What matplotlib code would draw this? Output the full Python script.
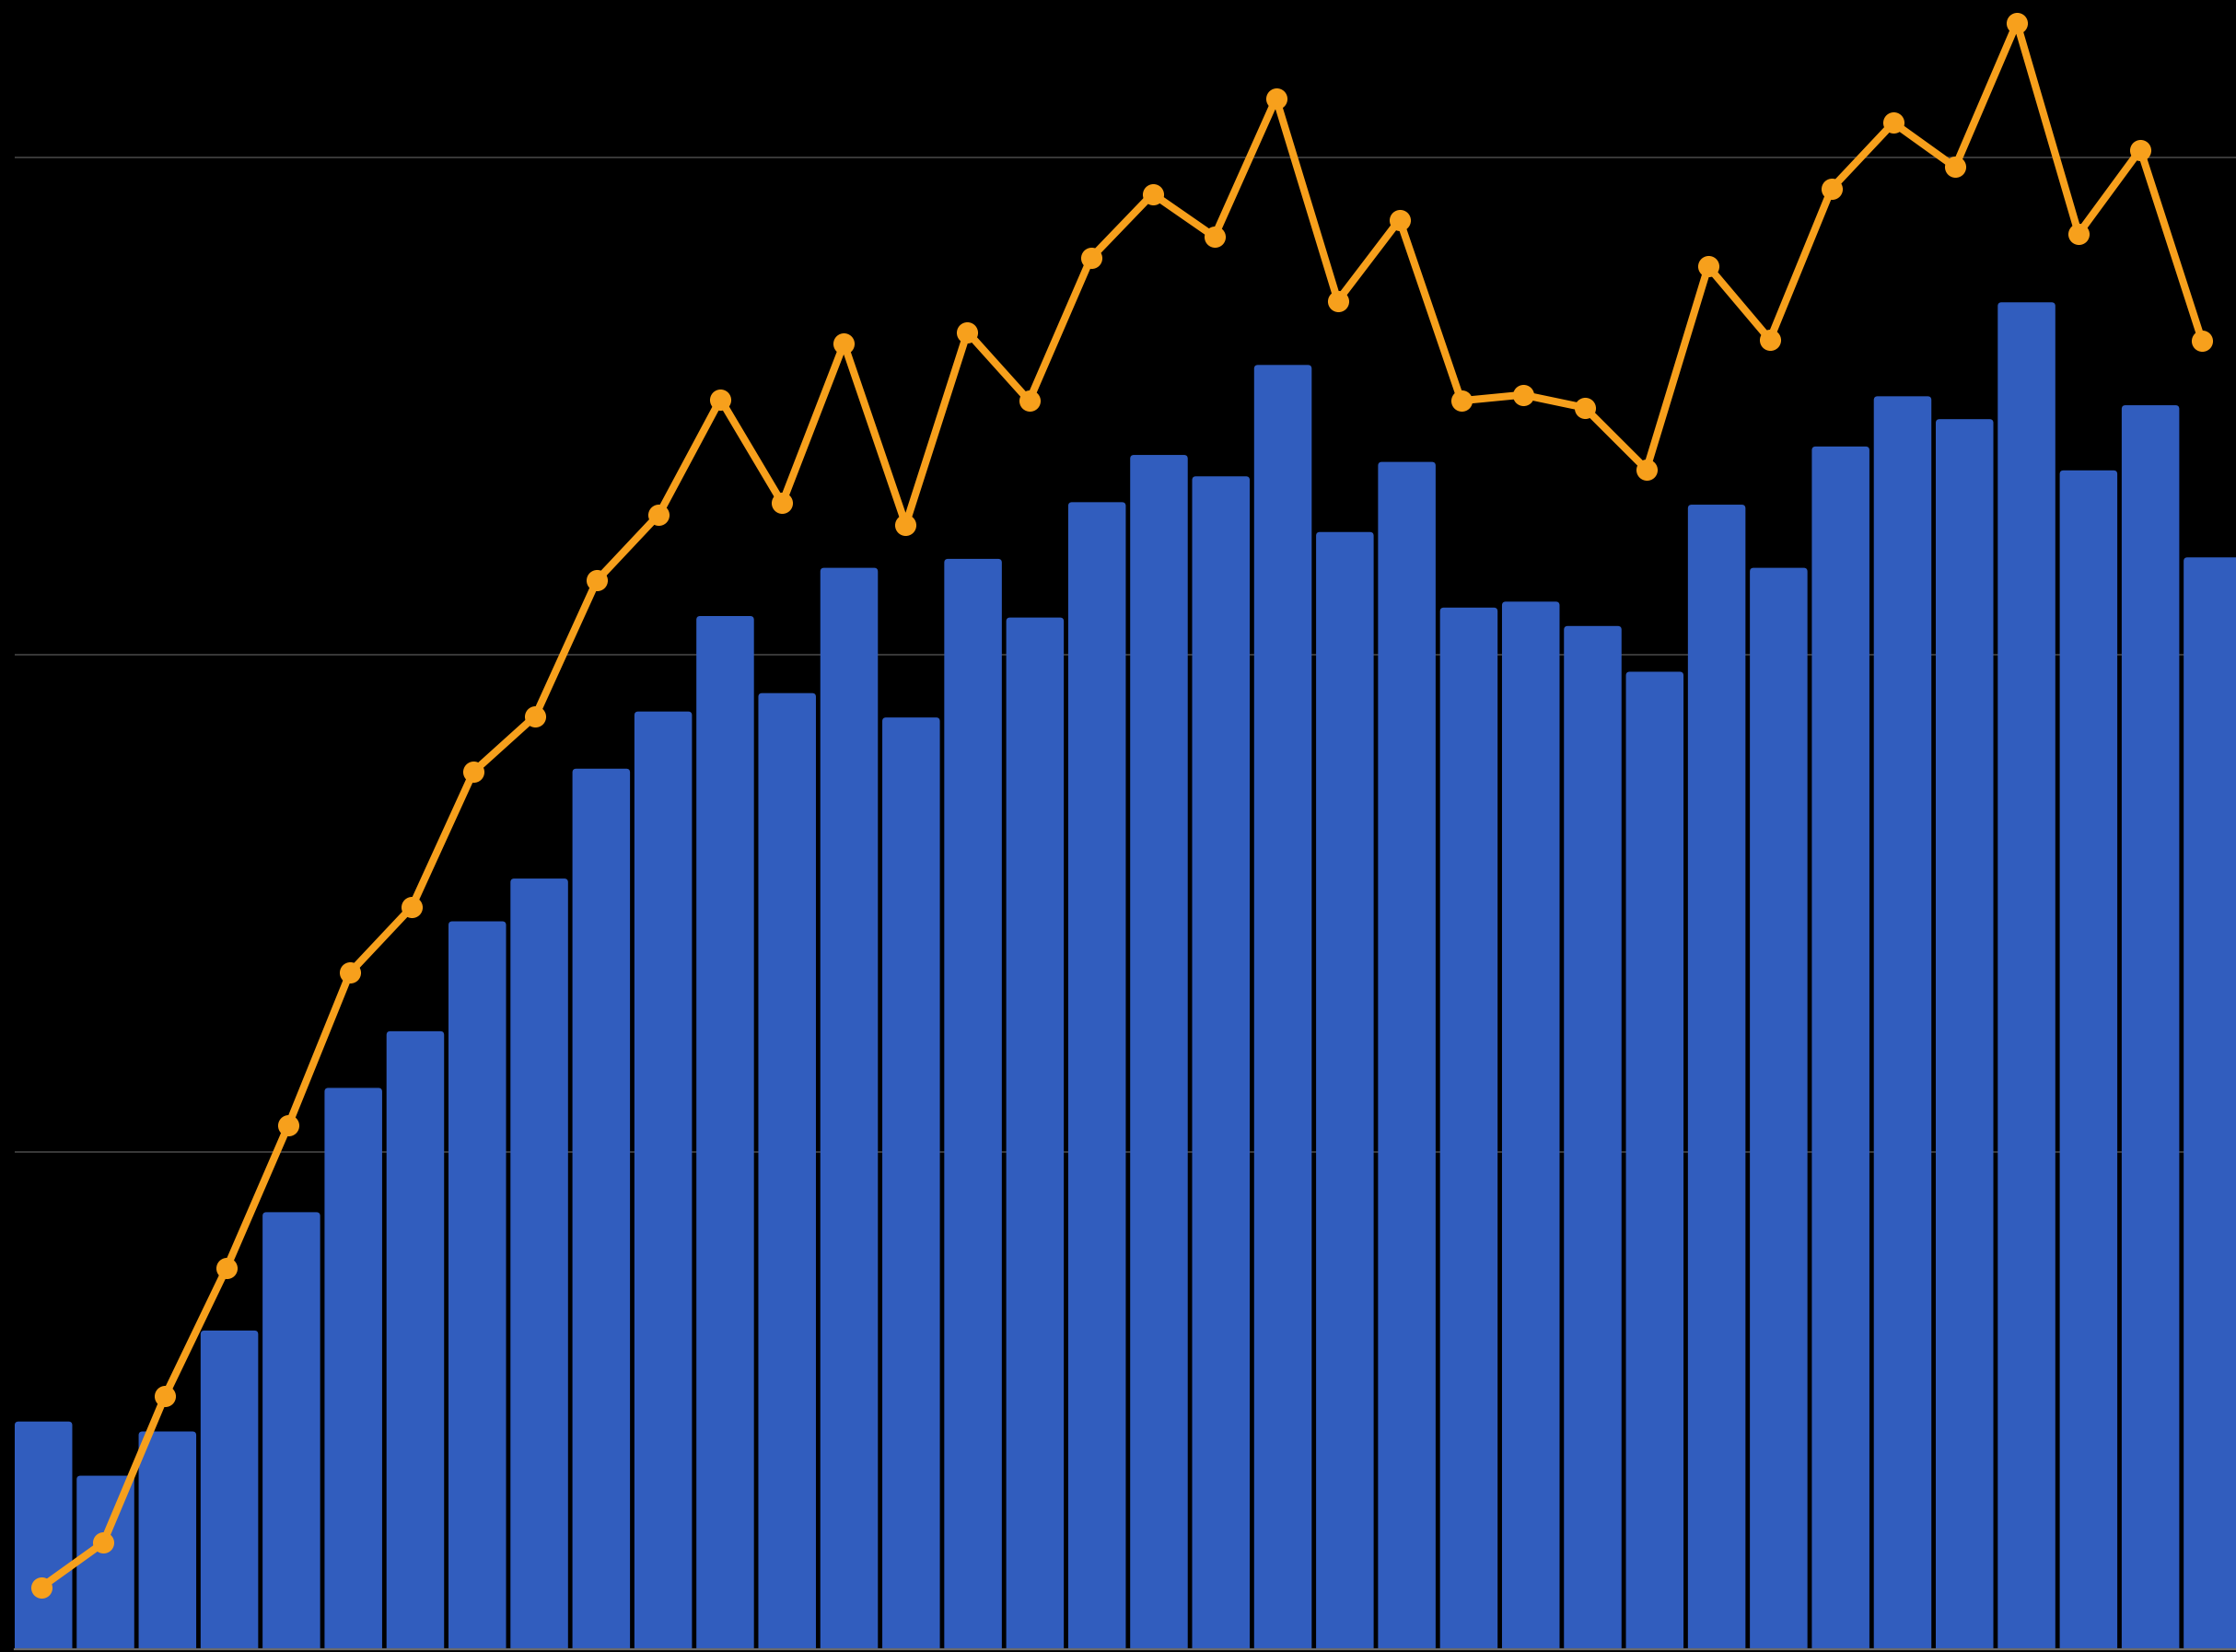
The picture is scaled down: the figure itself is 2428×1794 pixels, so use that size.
import matplotlib.pyplot as plt
from matplotlib.patches import FancyBboxPatch
import numpy as np


BAR_VALUES = [
    0.458, 0.349, 0.438, 0.641, 0.879, 1.129, 1.243, 1.464, 1.550,
    1.771, 1.886, 2.078, 1.923, 2.175, 1.874, 2.193, 2.075, 2.307,
    2.402, 2.359, 2.583, 2.247, 2.388, 2.095, 2.107, 2.058, 1.966,
    2.302, 2.175, 2.419, 2.520, 2.474, 2.709, 2.371, 2.502, 2.196,
]

LINE_VALUES = [
    0.125, 0.214, 0.509, 0.767, 1.054, 1.361, 1.493, 1.765, 1.877,
    2.150, 2.282, 2.514, 2.305, 2.626, 2.262, 2.649, 2.511, 2.798,
    2.927, 2.841, 3.119, 2.712, 2.875, 2.511, 2.523, 2.497, 2.373,
    2.781, 2.634, 2.938, 3.070, 2.981, 3.271, 2.847, 3.016, 2.632,
]

GRID_TICKS = [1, 2, 3]

BAR_COLOR = '#315DBE'
LINE_COLOR = '#F7A01C'


def rounded_bars(ax, x, heights, width):
    # small rounded top corners; the bottom ones go below 0 and get clipped
    for xi, h in zip(x, heights):
        patch = FancyBboxPatch(
            (xi - width / 2, -0.02), width, h + 0.02,
            boxstyle='round,pad=0,rounding_size=0.06',
            mutation_aspect=0.123,
            facecolor=BAR_COLOR, edgecolor='none', zorder=2,
        )
        ax.add_patch(patch)


def main():
    x = np.arange(len(BAR_VALUES))

    fig = plt.figure(figsize=(12.14, 8.97), dpi=200, facecolor='black')
    ax = fig.add_axes([16 / 2428, 3 / 1794, 1 - 16 / 2428, 1 - 3 / 1794])
    ax.set_facecolor('black')

    for t in GRID_TICKS:
        ax.axhline(t, color='#3a3a3a', linewidth=0.7, zorder=0)

    rounded_bars(ax, x, BAR_VALUES, 0.929)
    ax.set_xlim(-0.464, 35.38)
    ax.set_ylim(0, 3.317)

    # the line sits on its own x scale, a touch narrower than the bars
    ax2 = ax.twiny()
    ax2.plot(x, LINE_VALUES, color=LINE_COLOR, linewidth=2.9, marker='o',
             markersize=7.3, clip_on=False)
    ax2.set_xlim(-0.433, 35.55)

    for a in (ax, ax2):
        for side in ['top', 'right', 'left', 'bottom']:
            a.spines[side].set_visible(False)
        a.set_xticks([])
        a.set_yticks([])
    ax.spines['bottom'].set_visible(True)
    ax.spines['bottom'].set_color('#6a6a6a')
    ax.spines['bottom'].set_linewidth(0.8)

    fig.savefig('out.png', dpi=200, facecolor='black')


if __name__ == '__main__':
    main()
